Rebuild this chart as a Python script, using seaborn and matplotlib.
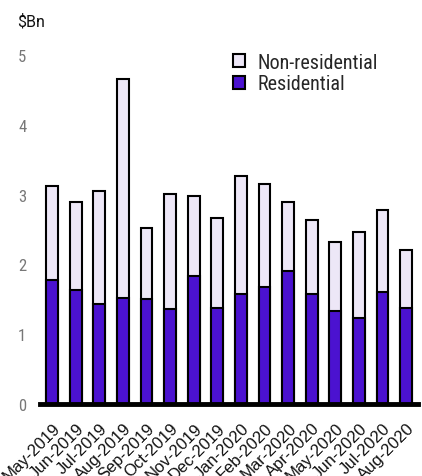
import matplotlib
matplotlib.use("Agg")
import matplotlib.pyplot as plt
import matplotlib.transforms as mtransforms
import seaborn as sns
import pandas as pd
from matplotlib.patches import Patch

months = ["May-2019", "Jun-2019", "Jul-2019", "Aug-2019", "Sep-2019", "Oct-2019",
          "Nov-2019", "Dec-2019", "Jan-2020", "Feb-2020", "Mar-2020", "Apr-2020",
          "May-2020", "Jun-2020", "Jul-2020", "Aug-2020"]
residential = [1.77, 1.63, 1.43, 1.52, 1.50, 1.36, 1.84, 1.37,
               1.58, 1.68, 1.91, 1.57, 1.33, 1.23, 1.61, 1.38]
non_residential = [1.36, 1.27, 1.62, 3.13, 1.02, 1.65, 1.14, 1.30,
                   1.69, 1.47, 0.98, 1.06, 0.99, 1.24, 1.17, 0.82]
y_ticks = [0, 1, 2, 3, 4, 5]

RES_COLOR = "#4B12D0"
NONRES_COLOR = "#EDE7F7"

df = pd.DataFrame({"month": months, "residential": residential,
                   "non_residential": non_residential})
df["total"] = df["residential"] + df["non_residential"]

sns.set_style("white")
NARROW = ["Roboto Condensed", "Liberation Sans Narrow", "DejaVu Sans Condensed", "Roboto", "DejaVu Sans"]
plt.rcParams["font.family"] = NARROW

fig = plt.figure(figsize=(4.22, 4.77), dpi=100)
ax = fig.add_axes([0.0953, 0.151, 0.8952, 0.7316])

# stacked bars: full height in lavender, residential portion drawn over it
sns.barplot(data=df, x="month", y="total", color=NONRES_COLOR, width=0.5,
            edgecolor="black", linewidth=1.5, saturation=1, ax=ax)
sns.barplot(data=df, x="month", y="residential", color=RES_COLOR, width=0.5,
            edgecolor="black", linewidth=1.5, saturation=1, ax=ax)

ax.set_xlim(-0.5, len(months) - 0.5)
ax.set_ylim(0, 5)
ax.set_yticks(y_ticks)
ax.set_yticklabels([str(t) for t in y_ticks], fontsize=12, color="#777777")
ax.set_xlabel("")
ax.set_ylabel("")
ax.tick_params(axis="both", length=0)
ax.tick_params(axis="y", pad=10)
ax.tick_params(axis="x", pad=11.5)
ax.set_xticks(range(len(months)))
ax.set_xticklabels(months, rotation=45, ha="right", rotation_mode="anchor",
                   fontsize=12, color="#111111",
                   family=["Liberation Sans", "DejaVu Sans"])
shift = mtransforms.ScaledTranslation(0.005, 0, fig.dpi_scale_trans)
for lbl in ax.get_xticklabels():
    lbl.set_transform(lbl.get_transform() + shift)

for side in ["left", "right", "top"]:
    ax.spines[side].set_visible(False)
ax.spines["bottom"].set_linewidth(3.5)
ax.spines["bottom"].set_color("black")
ax.spines["bottom"].set_zorder(5)

fig.text(0.04, 0.955, "$Bn", fontsize=11.5, color="#111111", va="center",
         family=["Roboto", "DejaVu Sans"])

handles = [Patch(facecolor=NONRES_COLOR, edgecolor="black", linewidth=1.5, label="Non-residential"),
           Patch(facecolor=RES_COLOR, edgecolor="black", linewidth=1.5, label="Residential")]
fig.legend(handles=handles, loc="upper left", bbox_to_anchor=(0.551, 0.887),
           frameon=False, fontsize=14.5, handlelength=0.62, handleheight=0.62,
           handletextpad=0.6, labelspacing=0.12, borderpad=0, borderaxespad=0)

fig.savefig("out.png", dpi=100)
